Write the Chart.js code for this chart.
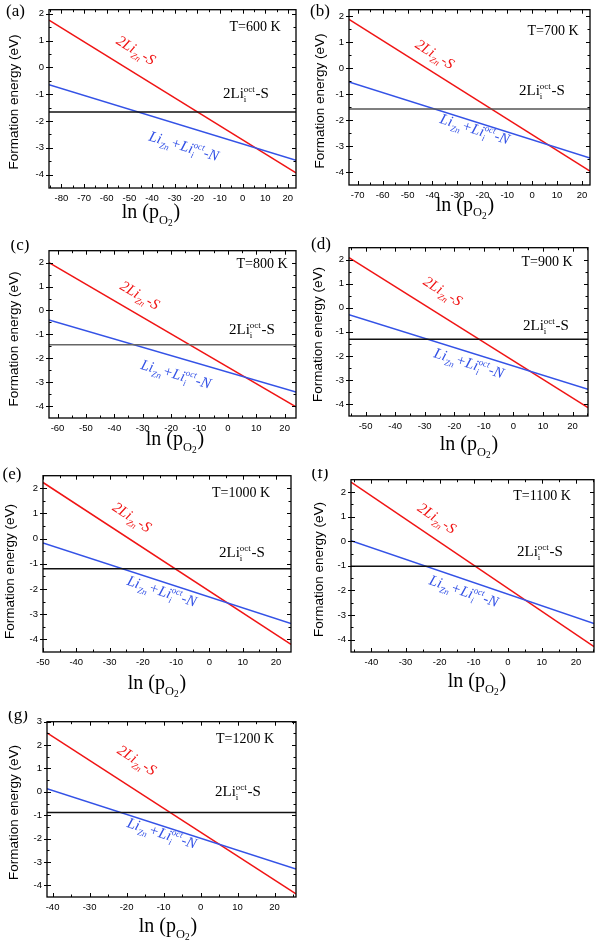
<!DOCTYPE html>
<html><head><meta charset="utf-8">
<script src="https://cdn.jsdelivr.net/npm/chart.js@4.4.1/dist/chart.umd.min.js"></script>
<style>
html,body{margin:0;padding:0;background:#fff;width:597px;height:945px;overflow:hidden;position:relative}
canvas{position:absolute}
</style></head><body>
<script>
// ---------------- data ----------------
const temperaturesK = [600, 700, 800, 900, 1000, 1100, 1200];
const panelTags = ['(a)', '(b)', '(c)', '(d)', '(e)', '(f)', '(g)'];
const lnPO2Min = [-85.5, -73.5, -63, -55.6, -50, -46, -41.5];
const lnPO2Max = [23.6, 23.2, 24, 25.2, 24.5, 25.3, 25.8];
const energyMin = [-4.5, -4.5, -4.5, -4.5, -4.5, -4.5, -4.5];
const energyMax = [2.15, 2.25, 2.5, 2.5, 2.5, 2.5, 3];
// 2Li_Zn-S (red): energy at left and right ends
const li2ZnStart = [1.76, 1.88, 2.0, 2.09, 2.23, 2.40, 2.52];
const li2ZnEnd = [-3.94, -3.97, -4.03, -4.15, -4.20, -4.28, -4.37];
// Li_Zn + Li_i^oct - N (blue)
const liZnLiiStart = [-0.65, -0.53, -0.40, -0.29, -0.17, 0.02, 0.13];
const liZnLiiEnd = [-3.47, -3.46, -3.41, -3.39, -3.37, -3.34, -3.30];
// 2Li_i^oct - S (black, flat)
const li2iOctLevel = [-1.67, -1.57, -1.43, -1.31, -1.19, -1.02, -0.89];
const xTickValues = [
  [-80, -70, -60, -50, -40, -30, -20, -10, 0, 10, 20],
  [-70, -60, -50, -40, -30, -20, -10, 0, 10, 20],
  [-60, -50, -40, -30, -20, -10, 0, 10, 20],
  [-50, -40, -30, -20, -10, 0, 10, 20],
  [-50, -40, -30, -20, -10, 0, 10, 20],
  [-40, -30, -20, -10, 0, 10, 20],
  [-40, -30, -20, -10, 0, 10, 20]
];
const yTickValues = [
  [-4, -3, -2, -1, 0, 1, 2],
  [-4, -3, -2, -1, 0, 1, 2],
  [-4, -3, -2, -1, 0, 1, 2],
  [-4, -3, -2, -1, 0, 1, 2],
  [-4, -3, -2, -1, 0, 1, 2],
  [-4, -3, -2, -1, 0, 1, 2],
  [-4, -3, -2, -1, 0, 1, 2, 3]
];

// ---------------- layout / style ----------------
const plotBoxes = [ // page coords of plot areas: left, top, right, bottom
  [49, 3, 296, 188], [349, 3, 590, 185],
  [49, 244, 296, 418], [349, 241, 588, 416],
  [43, 469, 291, 652], [351, 473, 594, 652],
  [47, 715, 296, 897]
];
const tagSpots = [[15.5, 12], [320, 12], [20, 246], [321, 245], [12, 475], [320, 474], [18, 716]];
const yTitleSpots = [[14, 102], [320, 101], [14, 339], [318.5, 334.5], [10, 571.5], [319.5, 569.5], [14, 812.5]];
const xTitleSpots = [[151, 218], [465, 210.5], [175, 445], [469, 450], [157, 689], [477, 687], [168, 932]]; // baseline
const tempSpots = [[255, 27], [553, 31], [262, 264], [547, 262], [241, 493], [542, 496], [245, 739]];
const redLabelSpots = [[136, 50], [435, 54], [140, 295], [443, 291], [132, 517], [437, 518], [137, 760]];
const blueLabelSpots = [[184, 146], [475, 129], [176, 374], [469, 363], [162, 591], [464, 591], [162, 833]];
const blackLabelSpots = [[246, 93], [542, 90], [252, 329], [546, 325], [242, 552], [540, 551], [238, 791]];
const flatLineColors = ['#111', '#555', '#666', '#111', '#111', '#111', '#111'];
const RED = '#f01414', BLUE = '#3452e6';
const SERIF = 'Liberation Serif', SANS = 'Liberation Sans';
const AXW = 48, AXH = 48, PADT = 4, PADR = 3;

function drawRich(ctx, segs, cx, cy, angle, size, fam, italic, color, subScale, baseOff) {
  const st = italic ? 'italic ' : '';
  const f = s => `${st}${s}px "${fam}"`;
  const small = size * (subScale || 0.6), tiny = size * (subScale ? subScale * 0.75 : 0.45);
  let W = 0; const parts = [];
  for (const s of segs) {
    if (s.t !== undefined) {
      ctx.font = f(size); const w = ctx.measureText(s.t).width;
      parts.push({type: 't', s, w}); W += w;
    } else {
      ctx.font = f(small);
      const wsub = s.sub ? ctx.measureText(s.sub).width : 0;
      const wsup = s.sup ? ctx.measureText(s.sup).width : 0;
      let w2 = 0;
      if (s.sub2) { ctx.font = f(tiny); w2 = ctx.measureText(s.sub2).width; }
      const w = Math.max(wsub + w2, wsup) + size * 0.05;
      parts.push({type: 's', s, w, wsub}); W += w;
    }
  }
  ctx.save();
  ctx.translate(cx, cy); ctx.rotate(angle);
  ctx.fillStyle = color; ctx.textBaseline = 'alphabetic'; ctx.textAlign = 'left';
  let x = -W / 2; const base = baseOff === undefined ? size * 0.33 : baseOff;
  for (const p of parts) {
    if (p.type === 't') { ctx.font = f(size); ctx.fillText(p.s.t, x, base); }
    else {
      ctx.font = f(small);
      if (p.s.sub) ctx.fillText(p.s.sub, x, base + size * 0.28);
      if (p.s.sup) ctx.fillText(p.s.sup, x, base - size * 0.42);
      if (p.s.sub2) { ctx.font = f(tiny); ctx.fillText(p.s.sub2, x + p.wsub, base + size * 0.42); }
    }
    x += p.w;
  }
  ctx.restore();
}

const deco = {
  id: 'deco',
  afterDatasetsDraw(chart, args, o) {
    const i = o.idx, ctx = chart.ctx, a = chart.chartArea;
    const xs = chart.scales.x, ys = chart.scales.y;
    ctx.save();
    ctx.strokeStyle = '#000'; ctx.lineWidth = 1;
    const xMaj = xTickValues[i], yMaj = yTickValues[i];
    const xMin = new Set(), yMinr = new Set();
    xMaj.forEach(v => { [v - 5, v + 5].forEach(m => { if (m > lnPO2Min[i] && m < lnPO2Max[i] && !xMaj.includes(m)) xMin.add(m); }); });
    yMaj.forEach(v => { [v - 0.5, v + 0.5].forEach(m => { if (m > energyMin[i] && m < energyMax[i] && !yMaj.includes(m)) yMinr.add(m); }); });
    ctx.beginPath();
    const tx = (v, L) => { const p = Math.round(xs.getPixelForValue(v)) + 0.5; ctx.moveTo(p, a.bottom); ctx.lineTo(p, a.bottom - L); ctx.moveTo(p, a.top); ctx.lineTo(p, a.top + L); };
    const ty = (v, L) => { const p = Math.round(ys.getPixelForValue(v)) + 0.5; ctx.moveTo(a.left, p); ctx.lineTo(a.left + L, p); ctx.moveTo(a.right, p); ctx.lineTo(a.right - L, p); };
    xMaj.forEach(v => tx(v, 4)); xMin.forEach(v => tx(v, 2.5));
    yMaj.forEach(v => { ty(v, 4); const p = Math.round(ys.getPixelForValue(v)) + 0.5; ctx.moveTo(a.left, p); ctx.lineTo(a.left - 3, p); });
    yMinr.forEach(v => ty(v, 2.5));
    ctx.stroke();
    ctx.lineWidth = 1.3;
    ctx.strokeRect(a.left, a.top, a.right - a.left, a.bottom - a.top);
    ctx.restore();
  },
  afterDraw(chart, args, o) {
    const i = o.idx, ctx = chart.ctx;
    const xs = chart.scales.x, ys = chart.scales.y;
    const cl = plotBoxes[i][0] - AXW, ct = plotBoxes[i][1] - PADT;
    const P = (pt) => [pt[0] - cl, pt[1] - ct];
    const ang = (y1, y2) => Math.atan2(ys.getPixelForValue(y2) - ys.getPixelForValue(y1),
                                        xs.getPixelForValue(lnPO2Max[i]) - xs.getPixelForValue(lnPO2Min[i]));
    ctx.save();
    let [x, y] = P(tagSpots[i]);
    ctx.fillStyle = '#000'; ctx.font = `17px "${SERIF}"`; ctx.textAlign = 'center'; ctx.textBaseline = 'middle';
    ctx.fillText(panelTags[i], x, y);
    [x, y] = P(yTitleSpots[i]);
    ctx.save(); ctx.translate(x, y); ctx.rotate(-Math.PI / 2);
    ctx.font = `13.5px "${SANS}"`; ctx.fillText('Formation energy (eV)', 0, 0); ctx.restore();
    [x, y] = P(xTitleSpots[i]);
    drawRich(ctx, [{t: 'ln (p'}, {sub: 'O', sub2: '2'}, {t: ')'}], x, y, 0, 20, SERIF, false, '#000', 0.62, 0);
    [x, y] = P(tempSpots[i]);
    ctx.font = `14px "${SERIF}"`; ctx.textAlign = 'center'; ctx.textBaseline = 'middle'; ctx.fillStyle = '#000';
    ctx.fillText('T=' + temperaturesK[i] + ' K', x, y);
    [x, y] = P(redLabelSpots[i]);
    drawRich(ctx, [{t: '2Li'}, {sub: 'Zn'}, {t: '-S'}], x, y, ang(li2ZnStart[i], li2ZnEnd[i]), 15, SERIF, true, RED);
    [x, y] = P(blueLabelSpots[i]);
    drawRich(ctx, [{t: 'Li'}, {sub: 'Zn'}, {t: '+Li'}, {sub: 'i', sup: 'oct'}, {t: '-N'}], x, y, ang(liZnLiiStart[i], liZnLiiEnd[i]), 15, SERIF, true, BLUE);
    [x, y] = P(blackLabelSpots[i]);
    drawRich(ctx, [{t: '2Li'}, {sub: 'i', sup: 'oct'}, {t: '-S'}], x, y, 0, 15, SERIF, false, '#000');
    ctx.restore();
  }
};

for (let i = 0; i < 7; i++) {
  const [L, T, R, B] = plotBoxes[i];
  const cl = L - AXW, ct = T - PADT, cw = R - L + AXW + PADR, ch = B - T + PADT + AXH;
  const cv = document.createElement('canvas');
  cv.width = cw; cv.height = ch;
  cv.style.left = cl + 'px'; cv.style.top = ct + 'px';
  cv.style.width = cw + 'px'; cv.style.height = ch + 'px';
  document.body.appendChild(cv);
  new Chart(cv, {
    type: 'scatter',
    data: {
      datasets: [
        {label: '2Li_i^oct-S', data: [{x: lnPO2Min[i], y: li2iOctLevel[i]}, {x: lnPO2Max[i], y: li2iOctLevel[i]}],
         borderColor: flatLineColors[i], borderWidth: 1.5, showLine: true, pointRadius: 0},
        {label: 'Li_Zn+Li_i^oct-N', data: [{x: lnPO2Min[i], y: liZnLiiStart[i]}, {x: lnPO2Max[i], y: liZnLiiEnd[i]}],
         borderColor: BLUE, borderWidth: 1.5, showLine: true, pointRadius: 0},
        {label: '2Li_Zn-S', data: [{x: lnPO2Min[i], y: li2ZnStart[i]}, {x: lnPO2Max[i], y: li2ZnEnd[i]}],
         borderColor: RED, borderWidth: 1.5, showLine: true, pointRadius: 0}
      ]
    },
    options: {
      responsive: false, animation: false, devicePixelRatio: 1,
      layout: {autoPadding: false, padding: {top: PADT, right: PADR, left: 0, bottom: 0}},
      plugins: {legend: {display: false}, tooltip: {enabled: false}, deco: {idx: i}},
      scales: {
        x: {
          type: 'linear', min: lnPO2Min[i], max: lnPO2Max[i],
          grid: {display: false, drawTicks: false}, border: {display: false},
          afterBuildTicks: s => { s.ticks = xTickValues[i].map(v => ({value: v})); },
          afterFit: s => { s.height = AXH; },
          ticks: {padding: 5, color: '#000', font: {family: SANS, size: 9.5}, maxRotation: 0, autoSkip: false,
                  callback: v => String(v)}
        },
        y: {
          type: 'linear', min: energyMin[i], max: energyMax[i],
          grid: {display: false, drawTicks: false}, border: {display: false},
          afterBuildTicks: s => { s.ticks = yTickValues[i].map(v => ({value: v})); },
          afterFit: s => { s.width = AXW; },
          ticks: {padding: 5, color: '#000', font: {family: SANS, size: 9.5}, autoSkip: false,
                  callback: v => String(v)}
        }
      }
    },
    plugins: [deco]
  });
}
</script>
</body></html>
